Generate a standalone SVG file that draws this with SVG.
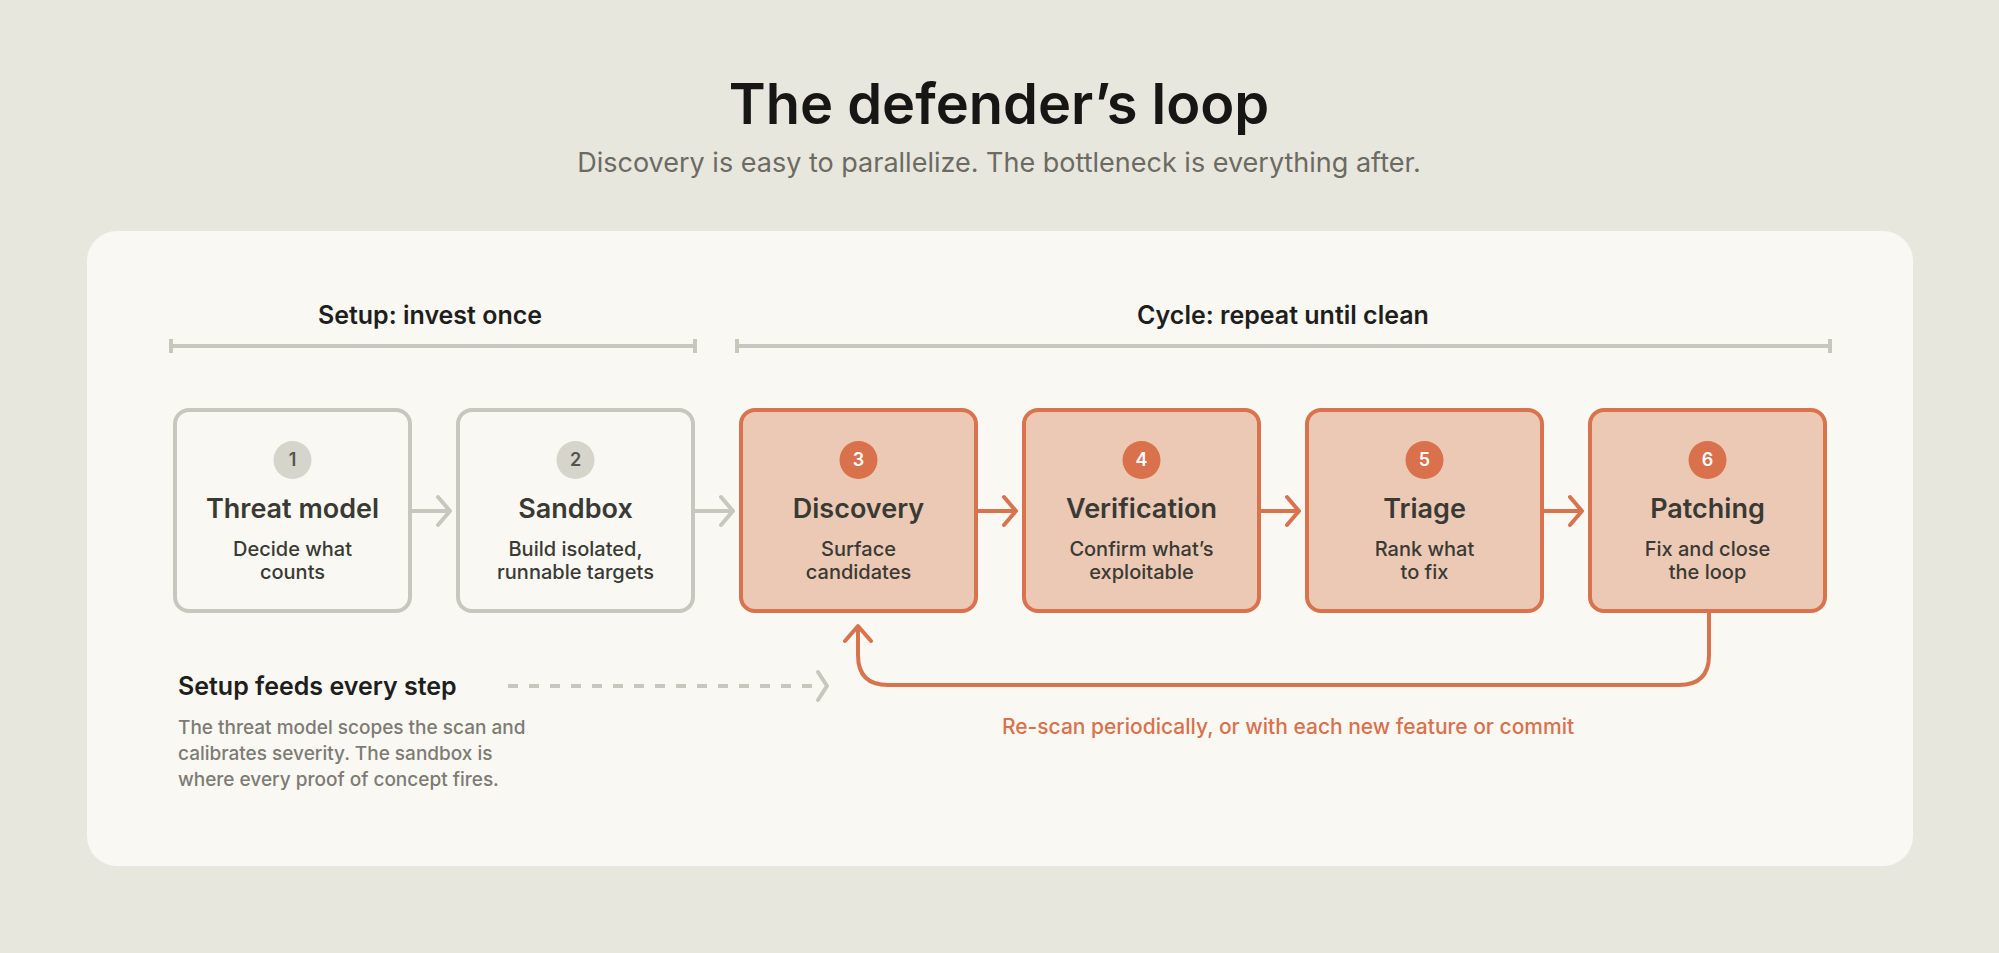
<svg xmlns="http://www.w3.org/2000/svg" width="1999" height="953" viewBox="0 0 1999 953">
<defs>
<style>
text{font-family:Inter,"Noto Sans",sans-serif}
.h{font-weight:600;fill:#3a3a35;font-size:27px;text-anchor:middle}
.s{font-weight:500;fill:#3a3a35;font-size:20px;text-anchor:middle}
.g rect{fill:#f9f8f3;stroke:#c8c7bd;stroke-width:4}
.o rect{fill:#ecc9b4;stroke:#d9734e;stroke-width:4}
.g circle{fill:#d6d5cb}.o circle{fill:#d9714d}
.n{font-size:18px;font-weight:600;text-anchor:middle}
.g .n{fill:#55554e}.o .n{fill:#fff}
.sec{font-size:25px;font-weight:600;fill:#1e1e1c;text-anchor:middle}
</style>
</defs>
<rect width="1999" height="953" fill="#e8e7dd"/>
<text x="999" y="124" font-size="56" font-weight="600" fill="#161614" text-anchor="middle">The defender’s loop</text>
<text x="999" y="172" font-size="27" fill="#6b6a63" text-anchor="middle">Discovery is easy to parallelize. The bottleneck is everything after.</text>
<rect x="87" y="231" width="1826" height="635" rx="30" fill="#f9f8f3"/>
<text class="sec" x="430" y="324">Setup: invest once</text>
<text class="sec" x="1283" y="324">Cycle: repeat until clean</text>
<g stroke="#c8c7bd" stroke-width="4" fill="none">
<path d="M171 346H695M171 339v14M695 339v14"/>
<path d="M737 346H1830M737 339v14M1830 339v14"/>
</g>
<g id="n1" class="g"><rect x="175" y="410" width="235" height="201" rx="14"/><circle cx="292.5" cy="460" r="19"/><text class="n" x="292.5" y="466">1</text><text class="h" x="292.5" y="518">Threat model</text><text class="s" x="292.5" y="556">Decide what</text><text class="s" x="292.5" y="579">counts</text></g>
<g id="n2" class="g"><rect x="458" y="410" width="235" height="201" rx="14"/><circle cx="575.5" cy="460" r="19"/><text class="n" x="575.5" y="466">2</text><text class="h" x="575.5" y="518">Sandbox</text><text class="s" x="575.5" y="556">Build isolated,</text><text class="s" x="575.5" y="579">runnable targets</text></g>
<g id="n3" class="o"><rect x="741" y="410" width="235" height="201" rx="14"/><circle cx="858.5" cy="460" r="19"/><text class="n" x="858.5" y="466">3</text><text class="h" x="858.5" y="518">Discovery</text><text class="s" x="858.5" y="556">Surface</text><text class="s" x="858.5" y="579">candidates</text></g>
<g id="n4" class="o"><rect x="1024" y="410" width="235" height="201" rx="14"/><circle cx="1141.5" cy="460" r="19"/><text class="n" x="1141.5" y="466">4</text><text class="h" x="1141.5" y="518">Verification</text><text class="s" x="1141.5" y="556">Confirm what’s</text><text class="s" x="1141.5" y="579">exploitable</text></g>
<g id="n5" class="o"><rect x="1307" y="410" width="235" height="201" rx="14"/><circle cx="1424.5" cy="460" r="19"/><text class="n" x="1424.5" y="466">5</text><text class="h" x="1424.5" y="518">Triage</text><text class="s" x="1424.5" y="556">Rank what</text><text class="s" x="1424.5" y="579">to fix</text></g>
<g id="n6" class="o"><rect x="1590" y="410" width="235" height="201" rx="14"/><circle cx="1707.5" cy="460" r="19"/><text class="n" x="1707.5" y="466">6</text><text class="h" x="1707.5" y="518">Patching</text><text class="s" x="1707.5" y="556">Fix and close</text><text class="s" x="1707.5" y="579">the loop</text></g>
<g id="connectors" fill="none" stroke-width="4" stroke-linecap="round" stroke-linejoin="round">
<g stroke="#c8c7bd"><path d="M412 511H448M438 497l12 14-12 14"/><path d="M695 511H731M721 497l12 14-12 14"/></g>
<g stroke="#d9734e"><path d="M978 511H1014M1004 497l12 14-12 14"/><path d="M1261 511H1297M1287 497l12 14-12 14"/><path d="M1544 511H1580M1570 497l12 14-12 14"/>
<path d="M1709 613V655Q1709 685 1679 685H888Q858 685 858 655V628M845 641l13-15 13 15"/></g>
<path d="M508 686H812" stroke="#c8c7bd" stroke-dasharray="10 11" stroke-linecap="butt"/>
<path d="M818 672l9 14-9 14" stroke="#c8c7bd"/>
</g>
<text x="1288" y="734" font-size="21" font-weight="500" fill="#d9714d" text-anchor="middle">Re-scan periodically, or with each new feature or commit</text>
<text x="178" y="695" font-size="25" font-weight="600" fill="#1e1e1c">Setup feeds every step</text>
<g font-size="19" font-weight="500" fill="#7d7b74"><text x="178" y="734">The threat model scopes the scan and</text><text x="178" y="760">calibrates severity. The sandbox is</text><text x="178" y="786">where every proof of concept fires.</text></g>
</svg>
